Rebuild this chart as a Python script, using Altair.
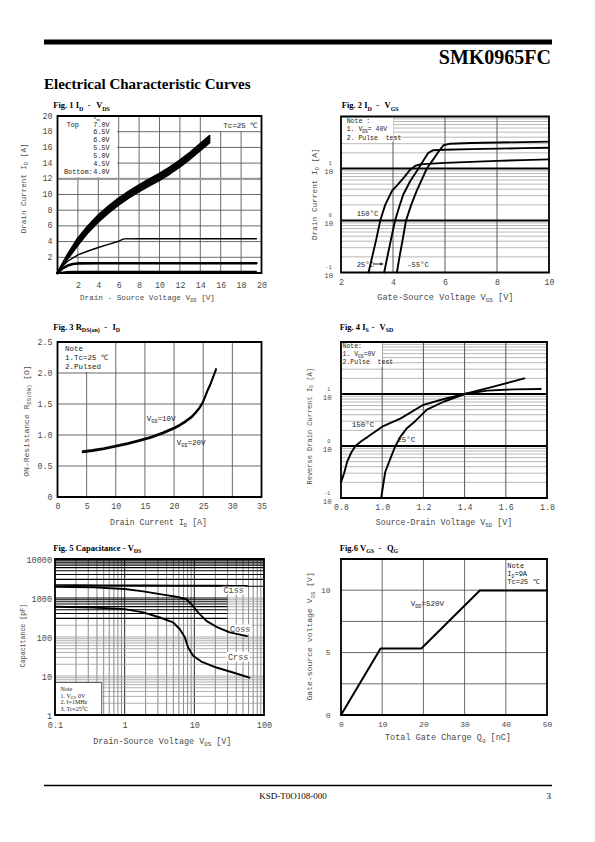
import altair as alt
import pandas as pd

# ============================ DATA ============================
# Fig. 1  ID - VDS
f1_ticks = [2, 4, 6, 8, 10, 12, 14, 16, 18, 20]
f1_grid = [2, 4, 6, 8, 10, 12, 14, 16, 18]
f1_vds_band = [0, 1, 2, 3, 4, 5, 6, 7, 8, 9, 10, 11, 12, 13, 14, 14.9]
f1_id_7v0 = [0, 2.35, 4.4, 6.0, 7.35, 8.5, 9.5, 10.4, 11.2, 11.95, 12.65, 13.45, 14.35, 15.35, 16.45, 17.45]
f1_id_6v5 = [0, 2.2, 4.13, 5.73, 7.08, 8.23, 9.23, 10.13, 10.93, 11.68, 12.38, 13.18, 14.08, 15.08, 16.18, 17.18]
f1_id_6v0 = [0, 2.0, 3.87, 5.47, 6.82, 7.97, 8.97, 9.87, 10.67, 11.42, 12.12, 12.92, 13.82, 14.82, 15.92, 16.92]
f1_id_5v5 = [0, 1.85, 3.6, 5.2, 6.55, 7.7, 8.7, 9.6, 10.4, 11.15, 11.85, 12.65, 13.55, 14.55, 15.65, 16.65]
f1_vds_5v0 = [0, 0.5, 1, 2, 3, 4, 5, 6, 6.5, 8, 10, 12, 14, 16, 18, 19.5]
f1_id_5v0 = [0, 0.9, 1.5, 2.3, 2.8, 3.25, 3.65, 4.05, 4.35, 4.36, 4.36, 4.36, 4.36, 4.36, 4.36, 4.36]
f1_vds_4v5 = [0, 0.5, 1, 1.5, 2, 4, 8, 12, 16, 19.5]
f1_id_4v5 = [0, 0.6, 0.95, 1.15, 1.22, 1.24, 1.24, 1.24, 1.24, 1.24]
f1_vds_4v0 = [0, 0.5, 1, 1.5, 2, 6, 12, 19.5]
f1_id_4v0 = [0, 0.12, 0.18, 0.2, 0.21, 0.21, 0.21, 0.21]
f1_legend = ["7.0V", "6.5V", "6.0V", "5.5V", "5.0V", "4.5V", "4.0V"]

# Fig. 2  ID - VGS
f2_ticks = [2, 4, 6, 8, 10]
f2_vgrid = [4, 6, 8]
f2_major = [1, 10]
f2_ylab_v = [0.1, 1, 10]
f2_ylab_e = ["-1", "0", "1"]
f2_vgs_150 = [3.06, 3.2, 3.35, 3.51, 3.7, 3.96, 4.2, 4.45, 4.66, 4.85, 5.04, 5.5, 6, 7, 8, 9, 10]
f2_id_150 = [0.1, 0.2, 0.42, 1.0, 2.0, 3.7, 5.0, 7.0, 9.5, 11.2, 12.0, 12.4, 12.8, 13.4, 14.0, 14.5, 15.0]
f2_vgs_25 = [3.66, 3.8, 3.95, 4.08, 4.25, 4.4, 4.66, 4.98, 5.2, 5.36, 5.55, 6, 7, 8, 9, 10]
f2_id_25 = [0.1, 0.22, 0.5, 1.0, 1.9, 3.2, 5.7, 10, 15, 20, 22.5, 23, 23.6, 24.1, 24.6, 25]
f2_vgs_m55 = [4.15, 4.25, 4.38, 4.5, 4.7, 4.91, 5.1, 5.3, 5.55, 5.75, 5.94, 6.2, 7, 8, 9, 10]
f2_id_m55 = [0.1, 0.2, 0.45, 1.0, 2.0, 3.7, 6.0, 10, 15, 21, 28, 30, 31, 31.6, 32.2, 32.8]

# Fig. 3  RDS(on) - ID
f3_xticks = [0, 5, 10, 15, 20, 25, 30, 35]
f3_yticks = [0, 0.5, 1.0, 1.5, 2.0, 2.5]
f3_vgrid = [5, 10, 15, 20, 25, 30]
f3_hgrid = [0.5, 1.0, 1.5, 2.0]
f3_id = [4.3, 6, 8, 10, 12, 14, 16, 18, 20, 21, 22, 23, 23.7, 24.3, 24.9, 25.3, 25.7, 26.2, 26.6, 27.2]
f3_r_10v = [0.74, 0.76, 0.79, 0.83, 0.87, 0.92, 0.97, 1.04, 1.12, 1.17, 1.23, 1.30, 1.37, 1.44, 1.53, 1.62, 1.72, 1.82, 1.92, 2.07]
f3_r_20v = [0.72, 0.74, 0.77, 0.81, 0.85, 0.90, 0.95, 1.02, 1.10, 1.15, 1.21, 1.28, 1.35, 1.42, 1.51, 1.60, 1.70, 1.80, 1.90, 2.05]

# Fig. 4  IS - VSD
f4_ticks = [0.8, 1.0, 1.2, 1.4, 1.6, 1.8]
f4_vgrid = [1.0, 1.2, 1.4, 1.6]
f4_major = [1, 10]
f4_ylab_v = [0.1, 1, 10]
f4_ylab_e = ["-1", "0", "1"]
f4_vsd_150 = [0.8, 0.815, 0.83, 0.85, 0.87, 0.9, 0.93, 1.0, 1.09, 1.2, 1.3, 1.4, 1.54, 1.69]
f4_is_150 = [0.2, 0.3, 0.5, 0.75, 1.0, 1.25, 1.5, 2.35, 3.4, 6.2, 8.0, 10, 13.9, 20.0]
f4_vsd_25 = [0.995, 1.005, 1.015, 1.04, 1.064, 1.088, 1.12, 1.16, 1.217, 1.298, 1.4, 1.51, 1.64, 1.77]
f4_is_25 = [0.1, 0.18, 0.32, 0.58, 1.0, 1.5, 2.2, 3.0, 5.0, 7.1, 10, 11.6, 12.3, 12.5]

# Fig. 5  Capacitance - VDS
f5_xticks = [0.1, 1, 10, 100]
f5_yticks = [1, 10, 100, 1000, 10000]
f5_vds_ciss = [0.1, 0.2, 0.5, 1, 2, 5, 10, 20, 40, 57]
f5_ciss = [2150, 2140, 2130, 2120, 2110, 2100, 2090, 2080, 2070, 2070]
f5_vds_coss = [0.1, 0.355, 1, 1.85, 3.2, 5.5, 7.7, 9.1, 11.3, 14.9, 20.7, 32.2, 57]
f5_coss = [1950, 1870, 1700, 1480, 1260, 1080, 930, 690, 430, 260, 183, 131, 105]
f5_vds_crss = [0.1, 0.355, 1, 1.85, 3.2, 4.96, 6.2, 7.3, 8.15, 9.6, 12.6, 20.7, 36, 62]
f5_crss = [595, 573, 519, 427, 316, 236, 158, 98, 54, 33, 23.5, 16.5, 12.3, 9.1]

# Fig. 6  VGS - QG
f6_xticks = [0, 10, 20, 30, 40, 50]
f6_yticks = [0, 5, 10]
f6_vgrid = [10, 20, 30, 40]
f6_hgrid = [2.5, 5, 7.5, 10]
f6_qg = [0, 9.6, 19.5, 33.7, 50]
f6_vgs = [0, 5.33, 5.33, 9.97, 9.97]

# ============================ STYLE ============================
MONO = "Liberation Mono"
SERIF = "Liberation Serif"
INK = "#1a1a1a"
LAB = "#4a4a4a"
GRID = "#585858"
LIGHT = "#9a9a9a"

TB = {"F": 611, "i": 278, "g": 500, ".": 250, " ": 250, "I": 389, "D": 722, "V": 722,
      "R": 722, "S": 556, "G": 778, "Q": 778, "-": 333, "C": 722, "a": 500, "p": 556,
      "c": 444, "t": 333, "n": 556, "e": 444, "(": 333, ")": 333, "o": 500, "s": 389,
      "N": 722, "=": 570, "T": 667, "M": 944, "H": 778, "z": 444, "f": 333}

ONE = pd.DataFrame({"k": [0]})


def cw(ch, size, font):
    if font == MONO:
        return 0.6 * size
    if ch.isdigit():
        return 0.5 * size
    return TB.get(ch, 500) * size / 1000.0


def axis(vals, pad, size=8.3, fmt=None, expr=None):
    kw = dict(values=vals, title=None, grid=False, domain=False, ticks=False,
              labelFont=MONO, labelFontSize=size, labelColor=LAB, labelPadding=pad,
              labelFlush=False, labelOverlap=False)
    if fmt:
        kw["format"] = fmt
    if expr:
        kw["labelExpr"] = expr
    return alt.Axis(**kw)


class Panel:
    def __init__(self, ox, oy, w, h, xs, ys, xa=None, ya=None):
        self.ox, self.oy, self.w, self.h = ox, oy, w, h
        self.xs, self.ys, self.xa, self.ya = xs, ys, xa, ya
        self.layers = []

    def X(self, f):
        return alt.X(f"{f}:Q", scale=self.xs, axis=self.xa)

    def Y(self, f):
        return alt.Y(f"{f}:Q", scale=self.ys, axis=self.ya)

    def hrule(self, vals, color, width, x1=None, x2=None):
        if x1 is None:
            ch = alt.Chart(pd.DataFrame({"v": vals})).mark_rule(
                color=color, strokeWidth=width).encode(y=self.Y("v"))
        else:
            d = pd.DataFrame({"v": vals, "a": [x1] * len(vals), "b": [x2] * len(vals)})
            ch = alt.Chart(d).mark_rule(color=color, strokeWidth=width).encode(
                y=self.Y("v"), x=self.X("a"), x2=alt.X2("b"))
        self.layers.append(ch)

    def vrule(self, vals, color, width):
        ch = alt.Chart(pd.DataFrame({"v": vals})).mark_rule(
            color=color, strokeWidth=width).encode(x=self.X("v"))
        self.layers.append(ch)

    def line(self, xs, ys, width, color="black"):
        d = pd.DataFrame({"x": xs, "y": ys})
        self.layers.append(alt.Chart(d).mark_line(
            color=color, strokeWidth=width, strokeJoin="round", strokeCap="round").encode(
            x=self.X("x"), y=self.Y("y")))

    def rect(self, x1, y1, x2, y2, fill="white", stroke=None, sw=0.0, opacity=1.0):
        kw = dict(fill=fill, opacity=opacity)
        if stroke:
            kw.update(stroke=stroke, strokeWidth=sw)
        self.layers.append(alt.Chart(ONE).mark_rect(**kw).encode(
            x=alt.value(x1 - self.ox), x2=alt.value(x2 - self.ox),
            y=alt.value(y1 - self.oy), y2=alt.value(y2 - self.oy)))

    def text(self, s, px, py, size, font=MONO, color=INK, weight="normal", angle=0, align="left"):
        self.layers.append(alt.Chart(pd.DataFrame({"t": [s]})).mark_text(
            font=font, fontSize=size, color=color, fontWeight=weight, angle=angle,
            align=align, baseline="alphabetic").encode(
            x=alt.value(px - self.ox), y=alt.value(py - self.oy), text="t:N"))

    def rich(self, parts, px, py, size, font=MONO, color=INK, weight="normal", angle=0, sub=0.7):
        if isinstance(parts, str):
            parts = [parts]
        pos = 0.0
        for p in parts:
            if isinstance(p, (int, float)):
                pos += p
                continue
            if isinstance(p, tuple):
                txt, fs, drop = p[1], size * sub, size * 0.28
            else:
                txt, fs, drop = p, size, 0.0
            words, cur, start = [], "", pos
            for ch in txt:
                if ch == " ":
                    if cur:
                        words.append((cur, start))
                    cur = ""
                else:
                    if not cur:
                        start = pos
                    cur += ch
                pos += cw(ch, fs, font)
            if cur:
                words.append((cur, start))
            for wtxt, off in words:
                if angle == 0:
                    self.text(wtxt, px + off, py + drop, fs, font, color, weight)
                else:
                    self.text(wtxt, px + drop, py - off, fs, font, color, weight, angle)

    def loglabels(self, vals, exps, right, size=7.5):
        d = pd.DataFrame({"v": vals, "t": ["10"] * len(vals), "e": exps})
        self.layers.append(alt.Chart(d).mark_text(
            font=MONO, fontSize=size, color=LAB, align="right", baseline="middle", dy=3.5).encode(
            x=alt.value(right - self.ox), y=self.Y("v"), text="t:N"))
        self.layers.append(alt.Chart(d).mark_text(
            font=MONO, fontSize=5, color=LAB, align="right", baseline="middle", dy=-5.5).encode(
            x=alt.value(right - 1.5 - self.ox), y=self.Y("v"), text="e:N"))

    def chart(self):
        self.layers.append(alt.Chart(ONE).mark_rect(
            fill="white", fillOpacity=0, stroke="black", strokeWidth=1.8).encode(
            x=alt.value(0), x2=alt.value(self.w), y=alt.value(0), y2=alt.value(self.h)))
        return alt.layer(*self.layers).properties(width=self.w, height=self.h)


def title(p, parts, px, py):
    p.rich(parts, px, py, 8.5, font=SERIF, color="black", weight="bold")


def lin(d):
    return alt.Scale(domain=d, nice=False, zero=False)


def logs(d):
    return alt.Scale(type="log", domain=d, nice=False)


# ============================ FIG 1 ============================
p1 = Panel(57.5, 116, 204, 157, lin([0, 20]), lin([0, 20]),
           axis(f1_ticks, 7.5), axis(f1_ticks, 5.5))
p1.rect(8, 8, 9, 9, opacity=0)  # page anchor
p1.rect(44, 39.5, 552, 44.5, fill="black")
p1.text("SMK0965FC", 551, 63.5, 20, SERIF, "black", "bold", align="right")
p1.text("Electrical Characteristic Curves", 44, 89, 15, SERIF, "black", "bold")
title(p1, ["Fig. 1 I", ("_", "D"), 4.5, "-", 5.5, "V", ("_", "DS")], 53.3, 108.3)
p1.vrule(f1_grid, GRID, 0.9)
p1.hrule([v for v in f1_grid if v != 12], GRID, 0.9)
p1.hrule([12], LIGHT, 2.2)
p1.rect(57.5, 116, 117, 177)
p1.rect(219, 116, 261.5, 131)
for ys in (f1_id_7v0, f1_id_6v5, f1_id_6v0, f1_id_5v5):
    p1.line(f1_vds_band, ys, 2.2)
p1.line(f1_vds_5v0, f1_id_5v0, 1.4)
p1.line(f1_vds_4v5, f1_id_4v5, 2.6)
p1.line(f1_vds_4v0, f1_id_4v0, 1.2)
p1.rich(["V", ("_", "GS")], 93.5, 119.3, 5.0)
p1.text("Top", 66.7, 126.5, 6.8)
for i, lab in enumerate(f1_legend):
    p1.text(lab, 93.3, 126.5 + 7.85 * i, 6.8)
p1.text("Bottom:", 64, 126.5 + 7.85 * 6, 6.8)
p1.rich("Tc=25 ℃", 223.3, 127.5, 7.5)
p1.rich(["Drain - Source Voltage V", ("_", "DS"), " [V]"], 80, 299.7, 7.65, color=LAB)
p1.rich(["Drain Current I", ("_", "D"), " [A]"], 26, 233.3, 7.6, color=LAB, angle=270)

# ============================ FIG 2 ============================
p2 = Panel(341, 116.5, 208, 156, lin([2, 10]), logs([0.1, 100]),
           axis(f2_ticks, 4.5), None)
title(p2, ["Fig. 2 I", ("_", "D"), 4.5, "-", 5.5, "V", ("_", "GS")], 341.7, 108.3)
p2.hrule([m * 10 ** k for k in (-1, 0, 1) for m in range(2, 10)], LIGHT, 0.7)
p2.vrule(f2_vgrid, GRID, 1.0)
p2.hrule(f2_major, "black", 2.2)
p2.rect(341, 116.5, 393.5, 141.5)
p2.line(f2_vgs_150, f2_id_150, 1.9)
p2.line(f2_vgs_25, f2_id_25, 1.9)
p2.line(f2_vgs_m55, f2_id_m55, 1.9)
p2.rich("Note :", 346.7, 123, 6.5)
p2.rich(["1. V", ("_", "DS"), "= 40V"], 346.7, 131.3, 6.5)
p2.rich("2. Pulse  test", 346.7, 139.5, 6.5)
p2.text("150°C", 356.7, 215.6, 7.2)
p2.text("25°C", 356.7, 266.5, 7.2)
p2.layers.append(alt.Chart(ONE).mark_rule(color=INK, strokeWidth=1).encode(
    x=alt.value(373 - p2.ox), x2=alt.value(381 - p2.ox), y=alt.value(264 - p2.oy)))
p2.layers.append(alt.Chart(ONE).mark_point(shape="triangle-right", filled=True, size=14,
                                           color=INK, opacity=1).encode(
    x=alt.value(382 - p2.ox), y=alt.value(264 - p2.oy)))
p2.text("-55°C", 407.3, 266.5, 7.2)
p2.loglabels(f2_ylab_v, f2_ylab_e, 333.3)
p2.rich(["Gate-Source Voltage V", ("_", "GS"), " [V]"], 377.3, 299.7, 8.6, color=LAB)
p2.rich(["Drain Current I", ("_", "D"), " [A]"], 316.5, 240, 7.75, color=LAB, angle=270)

# ============================ FIG 3 ============================
p3 = Panel(57.5, 342, 204, 155, lin([0, 35]), lin([0, 2.5]),
           axis(f3_xticks, 4.5),
           axis(f3_yticks, 5.5, expr="datum.value == 0 ? '0' : format(datum.value, '.1f')"))
title(p3, ["Fig. 3 R", ("_", "DS(on)"), 4.5, "-", 5.5, "I", ("_", "D")], 53.3, 329.6)
p3.vrule(f3_vgrid, GRID, 0.9)
p3.hrule(f3_hgrid, GRID, 0.9)
p3.rect(57.5, 342, 101, 372)
p3.line(f3_id, f3_r_10v, 1.6)
p3.line(f3_id, f3_r_20v, 1.6)
p3.text("Note", 65, 350.8, 7.5)
p3.rich("1.Tc=25 ℃", 65, 359.8, 7.5)
p3.text("2.Pulsed", 65, 368.5, 7.5)
p3.rich(["V", ("_", "GS"), "=10V"], 146.7, 421, 7.5)
p3.rich(["V", ("_", "GS"), "=20V"], 176.7, 445, 7.5)
p3.rich(["Drain Current I", ("_", "D"), " [A]"], 110, 524.5, 8.2, color=LAB)
p3.rich(["ON-Resistance R", ("_", "DS(ON)"), " [Ω]"], 28.5, 476.7, 8.0, color=LAB, angle=270)

# ============================ FIG 4 ============================
p4 = Panel(342, 341.5, 206, 156, lin([0.8, 1.8]), logs([0.1, 100]),
           axis(f4_ticks, 4.5, fmt=".1f"), None)
title(p4, ["Fig. 4 I", ("_", "S"), 3, "-", 5, "V", ("_", "SD")], 340.7, 329.6)
p4.hrule([m * 10 ** k for k in (-1, 0, 1) for m in range(2, 10)], LIGHT, 0.7)
p4.vrule(f4_vgrid, GRID, 1.0)
p4.hrule(f4_major, "black", 2.2)
p4.rect(342, 341.5, 383.3, 366)
p4.line(f4_vsd_150, f4_is_150, 1.9)
p4.line(f4_vsd_25, f4_is_25, 1.9)
p4.rich("Note:", 343.5, 347.3, 6.5)
p4.rich(["1. V", ("_", "GS"), "=0V"], 343.5, 355.6, 6.5)
p4.rich("2.Pulse  test", 343.5, 363, 6.5)
p4.text("150°C", 352.7, 426.5, 7.5)
p4.text("25°C", 398.3, 441.8, 7.5)
p4.loglabels(f4_ylab_v, f4_ylab_e, 332.7)
p4.rich(["Source-Drain Voltage V", ("_", "SD"), " [V]"], 376.7, 524.5, 8.3, color=LAB)
p4.rich(["Reverse Drain Current I", ("_", "S"), " [A]"], 312.5, 484, 7.0, color=LAB, angle=270)

# ============================ FIG 5 ============================
p5 = Panel(55, 558.5, 209, 156, logs([0.1, 100]), logs([1, 10000]),
           axis(f5_xticks, 5.5, 8.5, fmt="~g"), axis(f5_yticks, 3.5, 8.5, fmt="d"))
title(p5, ["Fig. 5 Capacitance - V", ("_", "DS")], 53.3, 550)
p5.vrule([m * 10 ** k for k in (-1, 0, 1) for m in range(2, 10)], GRID, 0.7)
p5.vrule([1, 10], "#222222", 1.0)
p5.hrule([m * 10 ** k for k in (0, 1) for m in range(2, 10)] + [10, 100], LIGHT, 0.8)
p5.hrule([200], LIGHT, 0.8)
p5.hrule([m * 100 for m in range(3, 11)], "black", 1.1, 0.1, 30)
p5.hrule([m * 100 for m in range(3, 11)], LIGHT, 0.8, 30, 100)
p5.hrule([m * 1000 for m in range(2, 10)], "black", 1.2)
p5.rect(55, 682, 101.7, 714.5, stroke="#333333", sw=0.8)
p5.rect(222, 584.5, 246, 594)
p5.rect(228.5, 624, 251.5, 633.5)
p5.rect(226.5, 651.5, 249.5, 661)
p5.line(f5_vds_ciss, f5_ciss, 1.6)
p5.line(f5_vds_coss, f5_coss, 1.9)
p5.line(f5_vds_crss, f5_crss, 1.9)
p5.text("Ciss", 223.5, 592, 8.5, color=LAB)
p5.text("Coss", 230, 631.5, 8.5, color=LAB)
p5.text("Crss", 228, 659, 8.5, color=LAB)
p5.text("Note", 60.5, 690.5, 6, SERIF)
p5.rich(["1. V", ("_", "GS"), " 0V"], 60.5, 697, 6, font=SERIF)
p5.text("2. f=1MHz", 60.5, 703.5, 6, SERIF)
p5.text("3. Tc=25°C", 60.5, 710, 6, SERIF)
p5.rich(["Drain-Source Voltage V", ("_", "DS"), " [V]"], 93.3, 743, 8.4, color=LAB)
p5.text("Capacitance [pF]", 25, 666.7, 6.6, color=LAB, angle=270)
# footer
p5.rect(44, 784.3, 552, 785.8, fill="black")
p5.text("KSD-T0O108-000", 293, 798, 9, SERIF, "black", align="center")
p5.text("3", 551, 798, 9, SERIF, "black", align="right")

# ============================ FIG 6 ============================
p6 = Panel(342, 558.5, 206, 156, lin([0, 50]), lin([0, 12.5]),
           axis(f6_xticks, 5, 8), axis(f6_yticks, 11, 8))
title(p6, ["Fig.6 V", ("_", "GS"), 4.5, "-", 5.5, "Q", ("_", "G")], 340.7, 550)
p6.vrule(f6_vgrid, GRID, 0.9)
p6.hrule(f6_hgrid, GRID, 0.9)
p6.line(f6_qg, f6_vgs, 2.0)
p6.rich(["V", ("_", "DD"), "=520V"], 411.7, 605.8, 7.5)
p6.text("Note", 508.3, 567.5, 7)
p6.rich(["I", ("_", "D"), "=9A"], 508.3, 575.2, 7)
p6.rich("Tc=25 ℃", 508.3, 583.5, 7)
p6.rich(["Total Gate Charge Q", ("_", "g"), " [nC]"], 386, 739.5, 8.5, color=LAB)
p6.rich(["Gate-source voltage V", ("_", "GS"), " [V]"], 313.3, 700, 8.1, color=LAB, angle=270)


# ============================ LAYOUT ============================
def spacer(h):
    return alt.Chart(ONE).mark_rule(opacity=0).encode(
        x=alt.value(0), y=alt.value(0), y2=alt.value(1)).properties(width=1, height=h)


chart = alt.concat(
    p1.chart(), p2.chart(),
    spacer(68.5), spacer(68.5),
    p3.chart(), p4.chart(),
    spacer(61), spacer(61),
    p5.chart(), p6.chart(),
    columns=2, spacing={"row": 0, "column": 77}, bounds="flush", center=True, align="each",
).properties(padding=0, background="white").configure_view(strokeWidth=0)

chart.save("out.html", embed_options={"renderer": "svg", "actions": False})
